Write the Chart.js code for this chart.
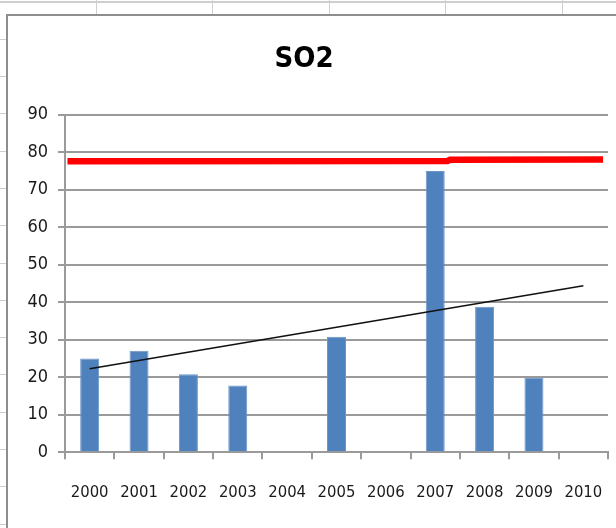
<!DOCTYPE html>
<html>
<head>
<meta charset="utf-8">
<script src="https://cdn.jsdelivr.net/npm/chart.js@4"></script>
<style>
  html, body { margin: 0; padding: 0; width: 616px; height: 528px; overflow: hidden; }
  body {
    position: relative;
    background-color: #fff;
    background-image:
      repeating-linear-gradient(to right, transparent 0, transparent 96px, #cfcfcf 96px, #cfcfcf 97px, transparent 97px, transparent 116.5px),
      repeating-linear-gradient(to bottom, transparent 0, transparent 1.5px, #cfcfcf 1.5px, #cfcfcf 2.5px, transparent 2.5px, transparent 37.3px);
    background-position: 0 0, 0 0;
  }
  #frame {
    position: absolute; left: 6px; top: 14px; width: 640px; height: 540px;
    background: #fff; border-left: 2px solid #8e8e8e; border-top: 2px solid #8e8e8e;
  }
  #c { position: absolute; left: 0; top: 0; }
</style>
</head>
<body>
<div id="frame"></div>
<canvas id="c" width="616" height="528"></canvas>
<script>
// ---- data ----
const title = "SO2";
const years = ["2000","2001","2002","2003","2004","2005","2006","2007","2008","2009","2010"];
const so2Values = [25, 27.1, 20.8, 17.8, null, 30.8, null, 75, 38.8, 19.9, null];
const trendValues = [22.3, null, null, null, null, null, null, null, null, null, 44.4];
const limitX = [0.05, 7.75, 7.8, 10.9];
const limitY = [77.6, 77.7, 78.0, 78.1];
const yTicks = [0, 10, 20, 30, 40, 50, 60, 70, 80, 90];

const FONT = '"Liberation Sans Narrow", "DejaVu Sans Condensed", "Liberation Sans", sans-serif';
const GRID = '#9a9a9a';

const limitData = limitX.map((x, i) => ({ x: x, y: limitY[i] }));

new Chart(document.getElementById('c'), {
  type: 'bar',
  data: {
    labels: years,
    datasets: [
      {
        type: 'bar', label: 'SO2', data: so2Values, xAxisID: 'x', yAxisID: 'y',
        backgroundColor: '#4f81bd', borderColor: '#6d96c8', borderWidth: 1,
        barPercentage: 0.385, categoryPercentage: 1, grouped: false, order: 3
      },
      {
        type: 'line', label: 'trend', data: trendValues, xAxisID: 'x', yAxisID: 'y',
        borderColor: '#111', borderWidth: 1.6, pointRadius: 0, spanGaps: true, order: 2
      },
      {
        type: 'line', label: 'limit', data: limitData, xAxisID: 'xl', yAxisID: 'y',
        borderColor: '#ff0000', borderWidth: 6.5, pointRadius: 0, tension: 0, order: 1
      }
    ]
  },
  options: {
    responsive: false,
    animation: false,
    devicePixelRatio: 1,
    layout: { padding: { left: 0, right: 8, top: 0, bottom: 0 } },
    plugins: {
      legend: { display: false },
      tooltip: { enabled: false },
      title: {
        display: true, text: title, color: '#000',
        font: { family: FONT, size: 29, weight: 'bold', lineHeight: 1.2 },
        padding: { top: 42, bottom: 38 }
      }
    },
    scales: {
      x: {
        type: 'category', offset: true,
        grid: { display: true, drawOnChartArea: false, drawTicks: true, tickLength: 7, offset: true, color: GRID, lineWidth: 2 },
        border: { display: true, color: GRID, width: 2 },
        ticks: { color: '#1a1a1a', font: { family: FONT, size: 16.5 }, padding: 24, maxRotation: 0, autoSkip: false },
        afterFit: (s) => { s.height = 75.7; s.paddingLeft = 0; s.paddingRight = 0; }
      },
      xl: {
        type: 'linear', display: false, offset: false, grace: 0, min: 0, max: 11,
        grid: { offset: false }
      },
      y: {
        type: 'linear', min: 0, max: 90,
        afterBuildTicks: (s) => { s.ticks = yTicks.map(v => ({ value: v })); },
        grid: { color: GRID, lineWidth: 2, tickLength: 7, drawTicks: true },
        border: { display: true, color: GRID, width: 2 },
        ticks: { color: '#1a1a1a', font: { family: FONT, size: 18 }, padding: 10 },
        afterFit: (s) => { s.width = 65; }
      }
    }
  }
});
</script>
</body>
</html>
